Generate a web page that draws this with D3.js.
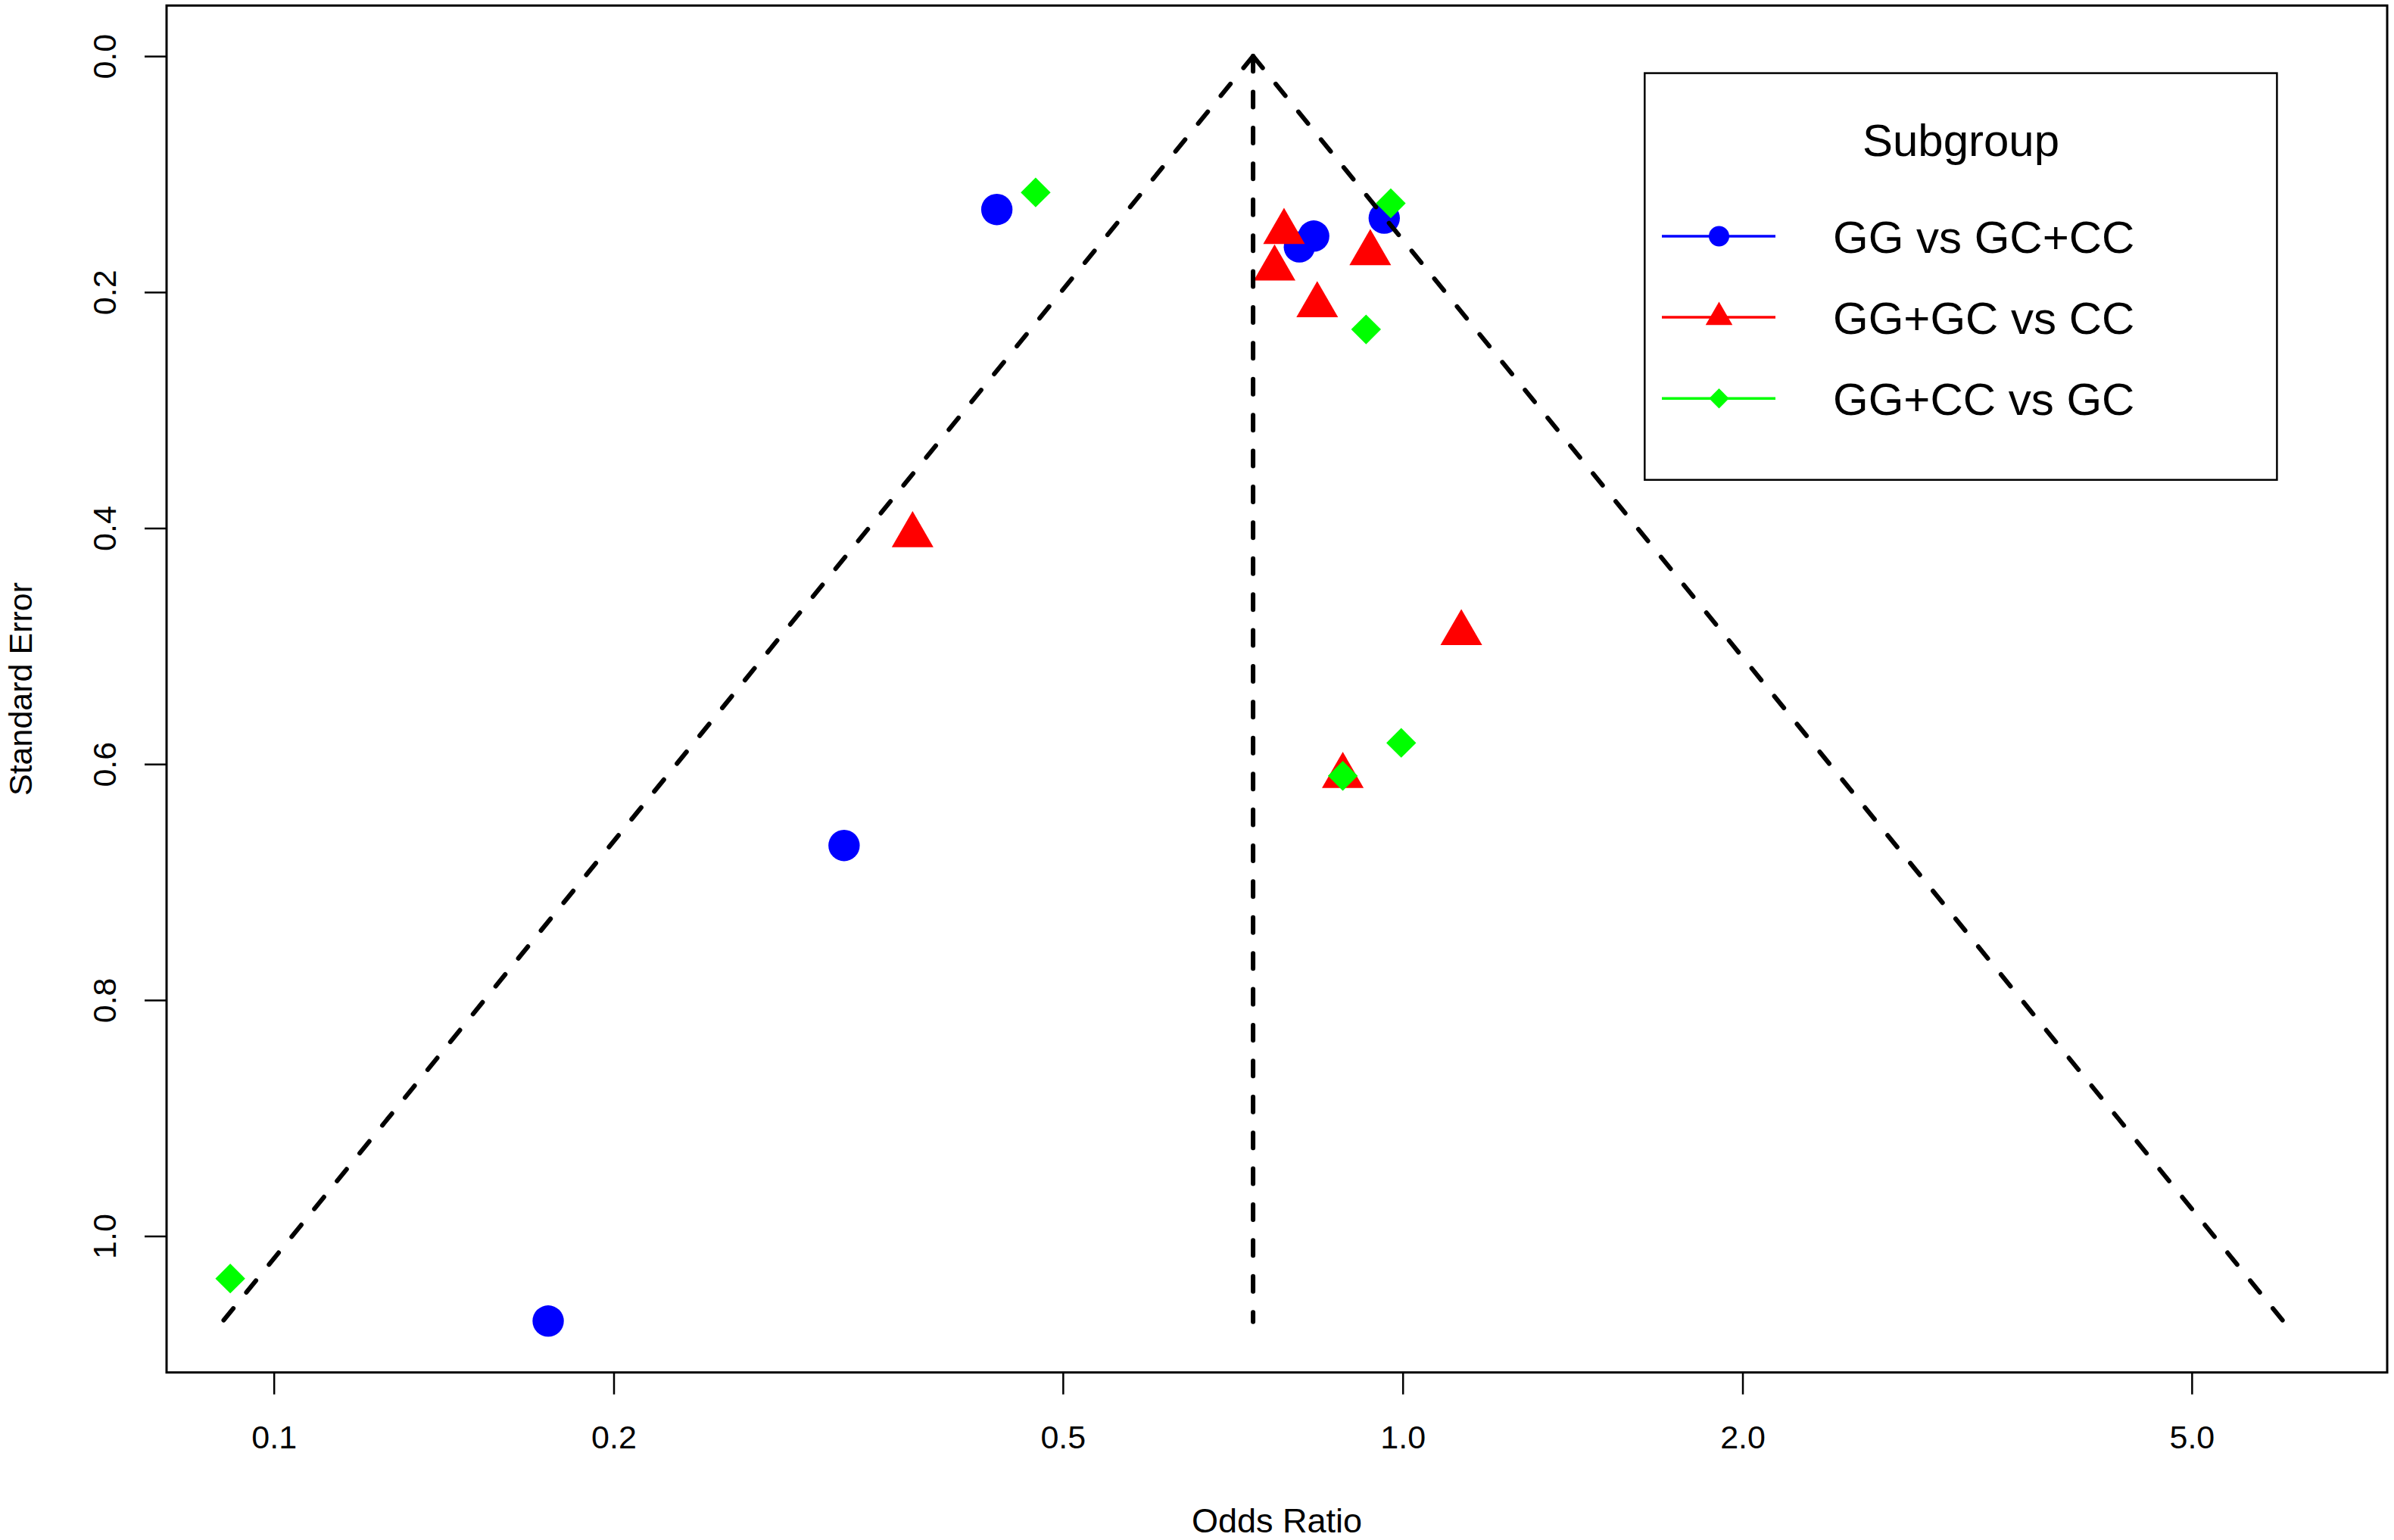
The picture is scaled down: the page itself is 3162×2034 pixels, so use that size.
<!DOCTYPE html>
<html>
<head>
<meta charset="utf-8">
<script src="https://cdn.jsdelivr.net/npm/d3@7"></script>
<style>
  html, body { margin: 0; padding: 0; background: #ffffff; }
  svg { display: block; font-family: "Liberation Sans", Arial, Helvetica, sans-serif; }
</style>
</head>
<body>
<svg id="chart" width="3162" height="2034"></svg>
<script>
// ---------------- data ----------------
const seriesNames = ["GG vs GC+CC", "GG+GC vs CC", "GG+CC vs GC"];
const seriesColors = ["#0000FF", "#FF0000", "#00FF00"];
const seriesShapes = ["circle", "triangle", "diamond"];

// GG vs GC+CC (blue circles)
const ggOR = [0.437, 0.834, 0.810, 0.963, 0.320, 0.175];
const ggSE = [0.130, 0.1525, 0.1617, 0.1373, 0.669, 1.072];
// GG+GC vs CC (red triangles)
const domOR = [0.785, 0.770, 0.936, 0.840, 0.368, 1.127, 0.885];
const domSE = [0.149, 0.180, 0.167, 0.211, 0.406, 0.489, 0.610];
// GG+CC vs GC (green diamonds)
const odOR = [0.473, 0.976, 0.928, 0.997, 0.885, 0.0915];
const odSE = [0.1155, 0.1247, 0.2316, 0.582, 0.610, 1.036];

const pooledOR = 0.737;
const maxSE = 1.0727;

const xTicks = [0.1, 0.2, 0.5, 1.0, 2.0, 5.0];
const yTicks = [0.0, 0.2, 0.4, 0.6, 0.8, 1.0];
const xTitle = "Odds Ratio";
const yTitle = "Standard Error";
const legendTitle = "Subgroup";

// ---------------- layout ----------------
const L = 220, R = 3153, T = 7.3, B = 1812.7;
const svg = d3.select("#chart");
svg.append("rect").attr("width", 3162).attr("height", 2034).attr("fill", "#fff");

const x = d3.scaleLog().domain([0.08035, 7.449]).range([L, R]);
const y = d3.scaleLinear().domain([-0.0429, 1.1156]).range([T, B]);

// marker shapes
function shapePath(shape, s) {
  if (shape === "circle") {
    return `M${-s},0A${s},${s},0,1,0,${s},0A${s},${s},0,1,0,${-s},0Z`;
  }
  if (shape === "triangle") {
    const h = s; // circumradius
    return `M0,${-h}L${h * Math.sqrt(3) / 2},${h / 2}L${-h * Math.sqrt(3) / 2},${h / 2}Z`;
  }
  return `M0,${-s}L${s},0L0,${s}L${-s},0Z`;
}
const markerSize = { circle: 20.7, triangle: 31.8, diamond: 19.7 };
const legendMarkerSize = { circle: 13.5, triangle: 20.5, diamond: 13.2 };

// ---------------- points ----------------
const seriesData = [
  ggOR.map((v, i) => ({ or: v, se: ggSE[i] })),
  domOR.map((v, i) => ({ or: v, se: domSE[i] })),
  odOR.map((v, i) => ({ or: v, se: odSE[i] }))
];

const pts = svg.append("g");
seriesData.forEach((data, k) => {
  pts.selectAll(null).data(data).enter().append("path")
    .attr("d", shapePath(seriesShapes[k], markerSize[seriesShapes[k]]))
    .attr("transform", d => `translate(${x(d.or)},${y(d.se)})`)
    .attr("fill", seriesColors[k]);
});

// ---------------- funnel ----------------
const lo = pooledOR * Math.exp(-1.96 * maxSE);
const hi = pooledOR * Math.exp(1.96 * maxSE);
const line = d3.line().x(d => x(d[0])).y(d => y(d[1]));
[[[pooledOR, 0], [lo, maxSE]], [[pooledOR, 0], [hi, maxSE]], [[pooledOR, 0], [pooledOR, maxSE]]]
  .forEach(seg => {
    svg.append("path").attr("d", line(seg))
      .attr("fill", "none").attr("stroke", "#000").attr("stroke-width", 6)
      .attr("stroke-dasharray", "20,27.4").attr("stroke-linecap", "round");
  });

// ---------------- axes ----------------
const fmt = d3.format(".1f");
const gx = svg.append("g").attr("transform", `translate(0,${B})`)
  .call(d3.axisBottom(x).tickValues(xTicks).tickFormat(fmt).tickSize(29));
gx.select(".domain").remove();
gx.selectAll(".tick line").attr("stroke", "#000").attr("stroke-width", 2.5);
gx.selectAll(".tick text").attr("y", 1913 - B).attr("dy", null)
  .attr("font-size", 43).attr("fill", "#000")
  .attr("font-family", "'Liberation Sans', Arial, Helvetica, sans-serif");

const gy = svg.append("g").attr("transform", `translate(${L},0)`)
  .call(d3.axisLeft(y).tickValues(yTicks).tickFormat(fmt).tickSize(29));
gy.select(".domain").remove();
gy.selectAll(".tick line").attr("stroke", "#000").attr("stroke-width", 2.5);
gy.selectAll(".tick text")
  .attr("x", 0).attr("y", 153 - L).attr("dy", null)
  .attr("transform", "rotate(-90)")
  .attr("text-anchor", "middle")
  .attr("font-size", 43).attr("fill", "#000")
  .attr("font-family", "'Liberation Sans', Arial, Helvetica, sans-serif");

// box
svg.append("rect").attr("x", L).attr("y", T).attr("width", R - L).attr("height", B - T)
  .attr("fill", "none").attr("stroke", "#000").attr("stroke-width", 3);

// axis titles
svg.append("text").attr("x", (L + R) / 2).attr("y", 2024)
  .attr("text-anchor", "middle").attr("font-size", 45).attr("fill", "#000").text(xTitle);
svg.append("text").attr("transform", `translate(42,910) rotate(-90)`)
  .attr("text-anchor", "middle").attr("font-size", 43).attr("fill", "#000").text(yTitle);

// ---------------- legend ----------------
const lg = svg.append("g");
lg.append("rect").attr("x", 2172.3).attr("y", 96.6).attr("width", 3007.4 - 2172.3).attr("height", 633.8 - 96.6)
  .attr("fill", "#fff").attr("stroke", "#000").attr("stroke-width", 2.5);
lg.append("text").attr("x", 2590).attr("y", 205.8).attr("text-anchor", "middle")
  .attr("font-size", 60).attr("fill", "#000").text(legendTitle);
const rowY = [312, 419, 526.2];
seriesNames.forEach((name, k) => {
  lg.append("line").attr("x1", 2195).attr("x2", 2345).attr("y1", rowY[k]).attr("y2", rowY[k])
    .attr("stroke", seriesColors[k]).attr("stroke-width", 3.5);
  lg.append("path").attr("d", shapePath(seriesShapes[k], legendMarkerSize[seriesShapes[k]]))
    .attr("transform", `translate(2270.5,${rowY[k]})`).attr("fill", seriesColors[k]);
  lg.append("text").attr("x", 2421).attr("y", rowY[k] + 21.5)
    .attr("font-size", 60).attr("fill", "#000").text(name);
});
</script>
</body>
</html>
